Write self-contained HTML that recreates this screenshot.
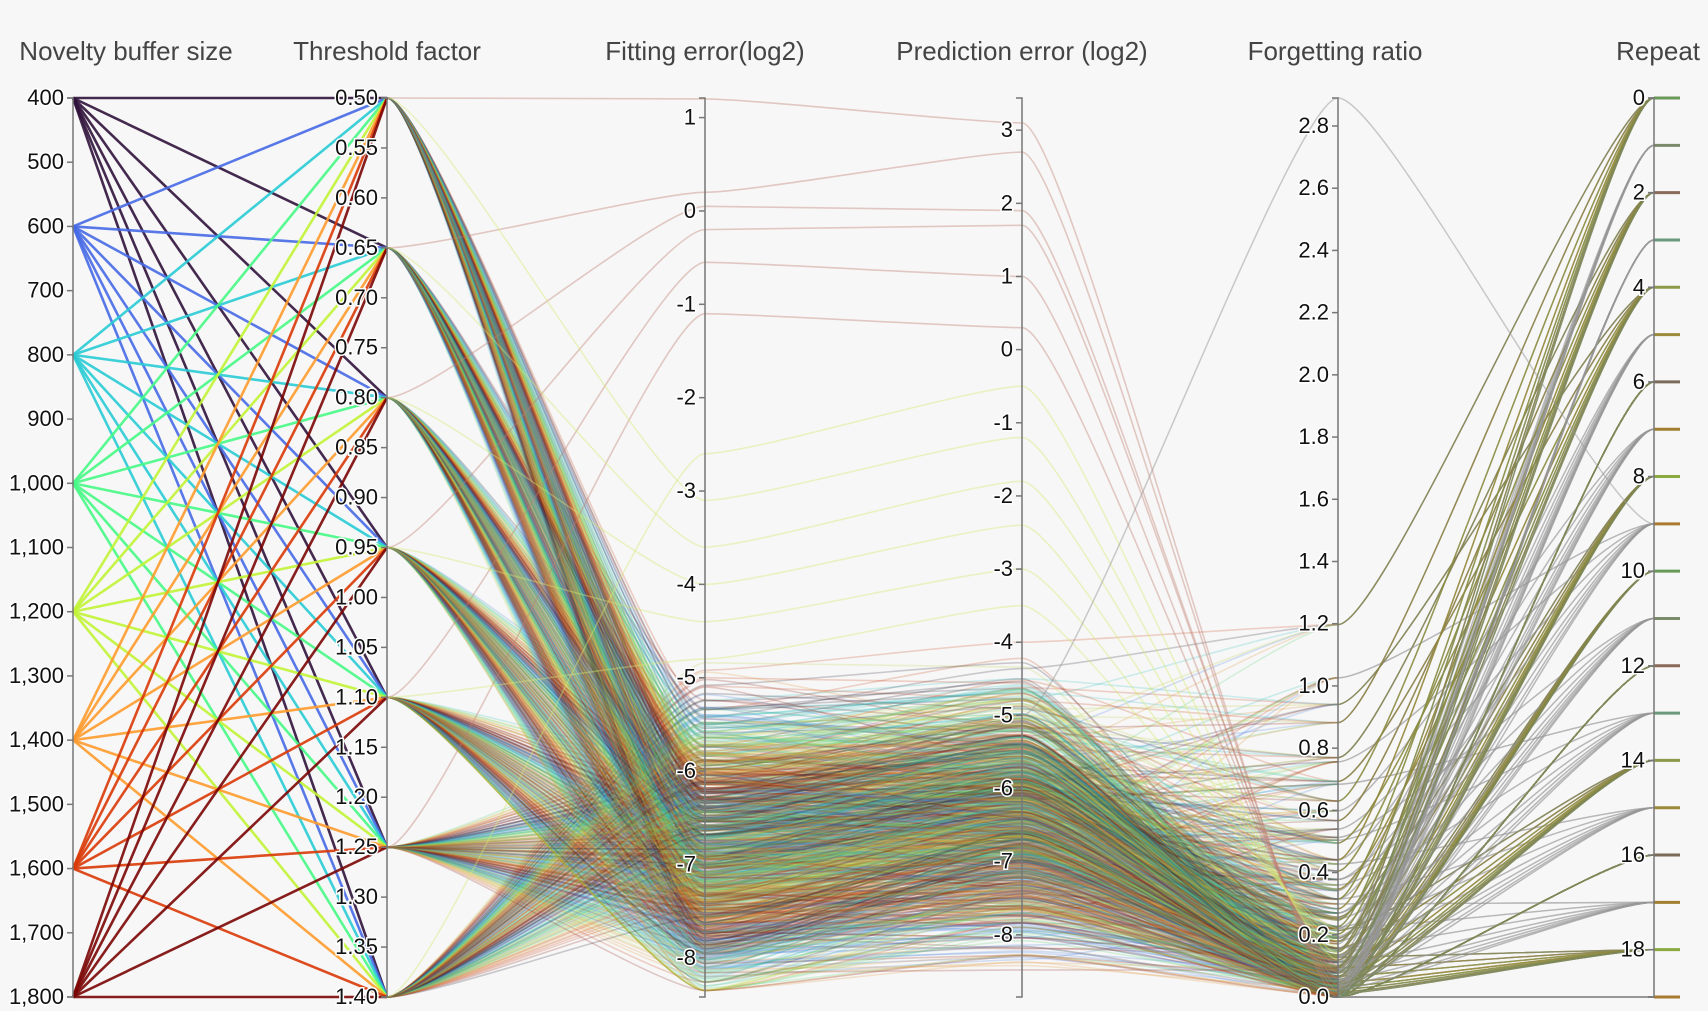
<!DOCTYPE html>
<html><head><meta charset="utf-8"><style>
body{margin:0;background:#f7f7f7;}
svg{display:block;font-family:"Liberation Sans",sans-serif;}
.t{font-size:26px;fill:#444;}
.tk{font-size:22px;fill:#111;stroke:#fff;stroke-width:3px;paint-order:stroke;}
</style></head><body>
<svg id="c" width="1708" height="1011">
<rect width="1708" height="1011" fill="#f7f7f7"/>
<g id="lines"></g>
<g id="axes"></g>
</svg>
<script>
const buffers=[400,600,800,1000,1200,1400,1600,1800];
const thresholds=[0.5,0.65,0.8,0.95,1.1,1.25,1.4];
const fitByThreshold=[-6.7,-6.6,-6.9,-7.1,-7.3,-7.0,-6.2];
const fitByBuffer=[0.4,0.3,0.15,0,-0.1,-0.2,-0.3,-0.4];
const predOffsetByThreshold=[0.4,0.5,0.6,0.5,0.4,0.3,0.2];
const forgetByBuffer=[0.95,0.7,0.5,0.35,0.25,0.18,0.12,0.08];
const repeatNoise=[0.55,-0.4,0.2,-0.6,0.35,-0.15,0.6,-0.3,0.05,-0.5,0.45,-0.05,0.25,-0.35,0.1,-0.2,0.5,-0.45,0.3,0.0];
const repeatForget=[1.4,0.2,0.9,0.05,1.1,0.4,0.0,0.7,0.3,1.2,0.1,0.6,0.0,0.8,0.25,0.5,0.0,0.35,0.15,0.0];
const outlierFit=[1.2,0.2,0.05,-0.2,-0.55,-1.1,-2.6,-3.1,-3.6,-4.0,-4.4,-4.8];
const outlierPred=[3.1,2.7,1.9,1.7,1.0,0.3,-0.5,-1.2,-1.8,-2.4,-3.0,-3.5];
const repeatColors=["#6a9a5a","#7a8a6a","#8a6a5a","#6a9a7a","#8a9a4a","#9a8a3a","#7a6a5a","#a08030","#8aaa40","#aa7a30"];
const turbo=["#30123b","#4669e5","#28cbd4","#46f884","#c1f334","#fe9a2c","#d93806","#7a0403"];
const turboMid=["#2a2030","#4680e0","#30c0c0","#50d070","#c0d040","#e09030","#c84010","#8a1a10"];

const yTop=98,yBot=997;
const X=[73,387,705,1022,1338,1654];
const lin=(d0,d1)=>v=>yTop+(v-d0)/(d1-d0)*(yBot-yTop);
const scales=[lin(400,1800),lin(0.5,1.4),lin(1.21,-8.42),lin(3.44,-8.85),lin(2.89,0),lin(0,19)];
const NS="http://www.w3.org/2000/svg";
const gL=document.getElementById('lines'),gA=document.getElementById('axes');
function mk(t,a,p){const e=document.createElementNS(NS,t);for(const k in a)e.setAttribute(k,a[k]);p.appendChild(e);return e;}
function curve(pts){let d=`M${pts[0][0]},${pts[0][1]}`;for(let i=1;i<pts.length;i++){const [x0,y0]=pts[i-1],[x1,y1]=pts[i];const dx=(x1-x0)*0.15;d+=` C${x0+dx},${y0} ${x1-dx},${y1} ${x1},${y1}`;}return d;}

buffers.forEach((b,bi)=>thresholds.forEach((t,ti)=>repeatNoise.forEach((n,ri)=>{
  const fit=Math.max(-8.35,fitByThreshold[ti]+fitByBuffer[bi]+n*1.6);
  const pred=fit+predOffsetByThreshold[ti]+repeatNoise[(ri+bi+ti)%20]*1.2;
  const fg=Math.max(0,forgetByBuffer[bi]*repeatForget[ri]*0.9);
  const vals=[b,t,fit,pred,fg,ri];
  const pts=vals.map((v,i)=>[X[i],scales[i](v)]);
  const p=mk('path',{d:curve(pts.slice(1,5)),fill:'none',stroke:turboMid[(bi+ti+ri)%8],'stroke-opacity':0.22,'stroke-width':1.6},gL);
  
  
  const colored=(ri%2==0);
  const q=mk('path',{d:curve(pts.slice(4)),fill:'none',stroke:colored?repeatColors[(bi+ti)%10]:'#999','stroke-opacity':colored?0.3:0.15,'stroke-width':1.4},gL);
  
  
})));
outlierFit.forEach((f,i)=>{
  const pts=[[X[1],scales[1](thresholds[i%7])],[X[2],scales[2](f)],[X[3],scales[3](outlierPred[i])],[X[4],scales[4](0.02*i)]];
  const p=mk('path',{d:curve(pts),fill:'none',stroke:i<6?'#c08070':'#d8e870','stroke-opacity':0.4,'stroke-width':1.6},gL);
  
  
});
const g2=mk('path',{d:curve([[X[3],scales[3](-5)],[X[4],scales[4](2.89)],[X[5],scales[5](9)]]),fill:'none',stroke:'#999','stroke-opacity':0.5,'stroke-width':1.5},gL);


buffers.forEach((b,bi)=>thresholds.forEach((t,ti)=>{
  const p=mk('path',{d:`M${X[0]},${scales[0](b)} L${X[1]},${scales[1](t)}`,fill:'none',stroke:turbo[bi],'stroke-width':2.6,'stroke-opacity':0.9},gL);
  
  
}));
for(let r=0;r<20;r++){const y=scales[5](r);
  const s=mk('line',{x1:X[5],x2:1680,y1:y,y2:y,stroke:repeatColors[r%10],'stroke-width':3},gL);
  
  }

const titles=["Novelty buffer size","Threshold factor","Fitting error(log2)","Prediction error (log2)","Forgetting ratio","Repeat"];
const titleX=[126,387,705,1022,1335,1700];
const ticks=[[400,500,600,700,800,900,1000,1100,1200,1300,1400,1500,1600,1700,1800],
[0.5,0.55,0.6,0.65,0.7,0.75,0.8,0.85,0.9,0.95,1,1.05,1.1,1.15,1.2,1.25,1.3,1.35,1.4],
[1,0,-1,-2,-3,-4,-5,-6,-7,-8],[3,2,1,0,-1,-2,-3,-4,-5,-6,-7,-8],
[2.8,2.6,2.4,2.2,2.0,1.8,1.6,1.4,1.2,1.0,0.8,0.6,0.4,0.2,0.0],[0,2,4,6,8,10,12,14,16,18]];
const fmt=[v=>v.toLocaleString('en-US'),v=>v.toFixed(2),v=>String(v),v=>String(v),v=>v.toFixed(1),v=>String(v)];
for(let i=0;i<6;i++){
  const t=mk('text',{x:titleX[i],y:60,'text-anchor':i==5?'end':'middle',class:'t'},gA);
  t.textContent=titles[i];
  
  
  const a=mk('path',{d:`M${X[i]-6},${yTop}H${X[i]}V${yBot}H${X[i]-6}`,fill:'none',stroke:'#777','stroke-width':1.5},gA);
  
  
  ticks[i].forEach(v=>{const y=scales[i](v);
    const l=mk('line',{x1:X[i]-6,x2:X[i],y1:y,y2:y,stroke:'#777','stroke-width':1.5},gA);
    
    
    const tx=mk('text',{x:X[i]-9,y:y+7,'text-anchor':'end',class:'tk'},gA);
    tx.textContent=fmt[i](v);
    
    });
}
</script>
</body></html>
